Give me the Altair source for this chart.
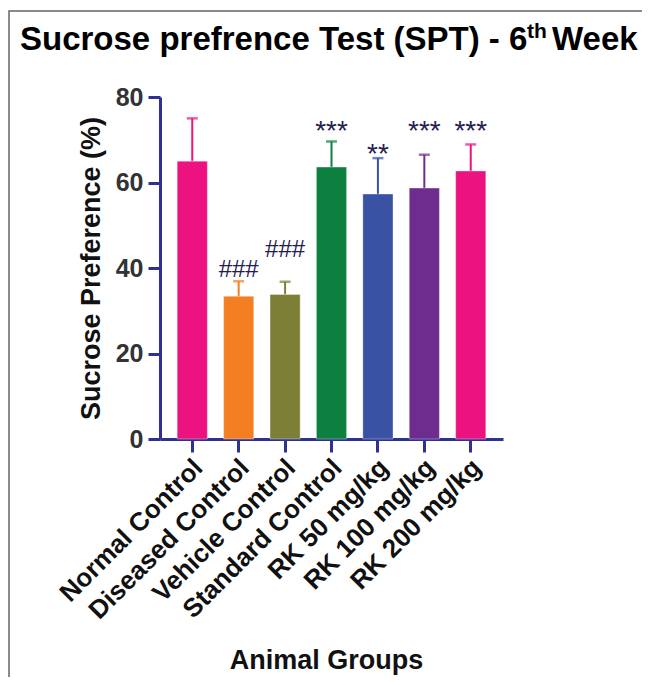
import altair as alt
import pandas as pd

groups = ["Normal Control", "Diseased Control", "Vehicle Control", "Standard Control",
          "RK 50 mg/kg", "RK 100 mg/kg", "RK 200 mg/kg"]
means = [65.0, 33.4, 33.8, 63.6, 57.3, 58.7, 62.7]
upper = [75.0, 36.9, 36.8, 69.6, 65.7, 66.5, 68.9]
colors = ["#EC1380", "#F47F22", "#7E7F36", "#0D7F3F", "#3952A3", "#6F2C8F", "#EC1380"]
sig_text = ["", "###", "###", "***", "**", "***", "***"]
sig_y = [0, 38.0, 42.6, 70.0, 64.6, 70.0, 70.0]
sig_size = [24, 24, 24, 28, 28, 28, 28]

title_parts = ["Sucrose prefrence Test (SPT) - 6", "th", "Week"]

FONT = "Liberation Sans"
NAVY = "#2E3192"

df = pd.DataFrame({"group": groups, "mean": means, "upper": upper, "color": colors})
sig = pd.DataFrame({"group": groups, "text": sig_text, "y": sig_y, "size": sig_size})
sig = sig[sig["text"] != ""]

x_enc = alt.X("group:N", sort=groups,
              scale=alt.Scale(paddingInner=0.35, paddingOuter=0.37),
              axis=alt.Axis(title="Animal Groups", labelAngle=-45, labelAlign="right",
                            labelBaseline="top", labelFontSize=26, labelFontWeight="bold",
                            labelFont=FONT, labelColor="#111", labelPadding=2, labelOffset=-3,
                            labelLimit=0,
                            tickSize=13, tickWidth=3, tickColor=NAVY, domainColor=NAVY,
                            domainWidth=3, titleFontSize=27, titleFont=FONT,
                            titleFontWeight="bold", titleColor="#111", titlePadding=24,
                            titleX=166))

y_scale = alt.Scale(domain=[0, 80])
y_axis = alt.Axis(title="Sucrose Preference (%)", values=[0, 20, 40, 60, 80], grid=False,
                  labelFontSize=25, labelFontWeight="bold", labelFont=FONT, labelColor="#333",
                  labelPadding=5, tickSize=12, tickWidth=3, tickColor=NAVY, domainColor=NAVY,
                  domainWidth=3, titleFontSize=27, titleFont=FONT, titleFontWeight="bold",
                  titleColor="#111", titlePadding=10)

base = alt.Chart(df)

err_line = base.mark_rule(strokeWidth=2).encode(
    x=x_enc, y=alt.Y("mean:Q", scale=y_scale, axis=y_axis), y2="upper:Q",
    color=alt.Color("color:N", scale=None))
err_cap = base.mark_tick(thickness=2.5, size=11).encode(
    x=x_enc, y=alt.Y("upper:Q", scale=y_scale), color=alt.Color("color:N", scale=None))
bars = base.mark_bar(strokeWidth=1, strokeOpacity=0.35, stroke="#ffffff").encode(
    x=x_enc, y=alt.Y("mean:Q", scale=y_scale), color=alt.Color("color:N", scale=None))

sig_marks = alt.Chart(sig).mark_text(font=FONT, color="#232050", baseline="alphabetic").encode(
    x=x_enc, y=alt.Y("y:Q", scale=y_scale), text="text:N",
    size=alt.Size("size:Q", scale=None))

t1 = alt.Chart(pd.DataFrame({"t": [title_parts[0]]})).mark_text(
    font=FONT, fontSize=33, fontWeight="bold", align="left",
    baseline="alphabetic", color="#000").encode(
    x=alt.value(-140), y=alt.value(-47), text="t:N")
t2 = alt.Chart(pd.DataFrame({"t": [title_parts[1]]})).mark_text(
    font=FONT, fontSize=21, fontWeight="bold", align="left", baseline="alphabetic",
    color="#000").encode(x=alt.value(367), y=alt.value(-59), text="t:N")
t3 = alt.Chart(pd.DataFrame({"t": [title_parts[2]]})).mark_text(
    font=FONT, fontSize=33, fontWeight="bold", align="left", baseline="alphabetic",
    color="#000").encode(x=alt.value(392), y=alt.value(-47), text="t:N")

frame = alt.Chart(pd.DataFrame({"a": [1]})).mark_rect(
    fill="transparent", stroke="#666", strokeWidth=1.5).encode(
    x=alt.value(-151), x2=alt.value(700), y=alt.value(-86), y2=alt.value(700))

chart = alt.layer(frame, err_line, err_cap, bars, sig_marks, t1, t2, t3).properties(
    width=343, height=342,
    autosize=alt.AutoSizeParams(type="none"),
    padding={"left": 152, "top": 89, "right": 139, "bottom": 238},
    background="white",
).configure_view(strokeWidth=0)

chart.save("out.html", embed_options={"renderer": "svg", "actions": False})
